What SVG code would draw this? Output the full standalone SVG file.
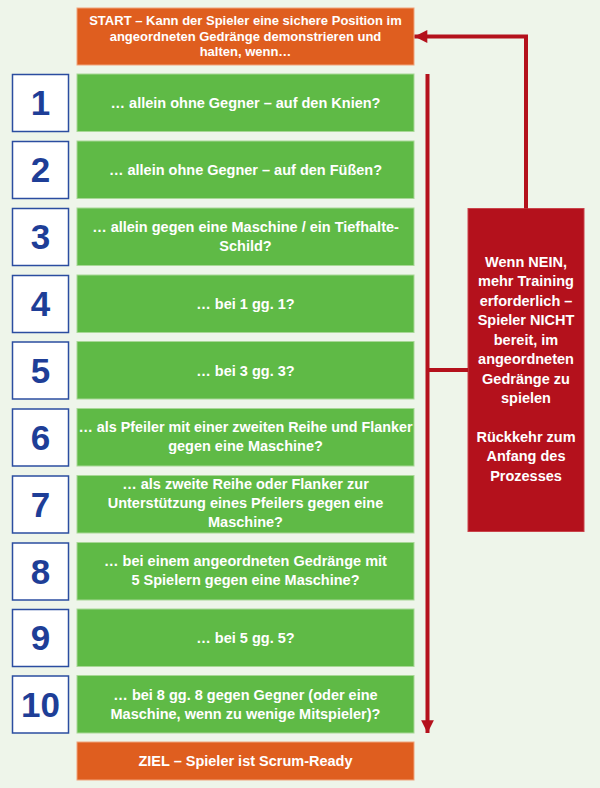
<svg xmlns="http://www.w3.org/2000/svg" width="600" height="788" viewBox="0 0 600 788">
<style>
.bg{fill:#eef5ea}
.org{fill:#df5e1f;stroke:#f0a47c;stroke-width:1}
.grn{fill:#5fba46;stroke:#a8d896;stroke-width:1}
.num{fill:#ffffff;stroke:#2b4da0;stroke-width:1.5}
.red{fill:#b4111c;stroke:#c9434b;stroke-width:1}
.t{font-family:"Liberation Sans",Arial,sans-serif;font-weight:bold;font-size:14.5px;fill:#ffffff;text-anchor:middle}
.s{font-family:"Liberation Sans",Arial,sans-serif;font-weight:bold;font-size:13px;fill:#ffffff;text-anchor:middle}
.rt{font-family:"Liberation Sans",Arial,sans-serif;font-weight:bold;font-size:14.5px;fill:#ffffff;text-anchor:middle}
.n{font-family:"Liberation Sans",Arial,sans-serif;font-weight:bold;font-size:35px;fill:#1e3e97;text-anchor:middle}
.ln{fill:none;stroke:#b4111c;stroke-width:4}
</style>
<defs>
<marker id="ah" viewBox="0 0 10 10" refX="10" refY="5" markerWidth="4.5" markerHeight="3.2" markerUnits="strokeWidth" orient="auto">
<path d="M0,0 L10,5 L0,10 Z" fill="#b4111c"/>
</marker>
</defs>
<rect class="bg" x="0" y="0" width="600" height="788"/>

<g id="start">
<rect class="org" x="77" y="8" width="337" height="57"/>
<text class="s" x="245.5" y="25">START – Kann der Spieler eine sichere Position im</text>
<text class="s" x="245.5" y="40.5">angeordneten Gedränge demonstrieren und</text>
<text class="s" x="245.5" y="56">halten, wenn…</text>
</g>

<g id="step1">
<rect class="num" x="12.5" y="74.5" width="56" height="57"/>
<text class="n" x="40.5" y="115">1</text>
<rect class="grn" x="77" y="74" width="337" height="57.5"/>
<text class="t" x="245.5" y="108">… allein ohne Gegner – auf den Knien?</text>
</g>

<g id="step2">
<rect class="num" x="12.5" y="141.5" width="56" height="57"/>
<text class="n" x="40.5" y="182">2</text>
<rect class="grn" x="77" y="141" width="337" height="57.5"/>
<text class="t" x="245.5" y="175">… allein ohne Gegner – auf den Füßen?</text>
</g>

<g id="step3">
<rect class="num" x="12.5" y="208.5" width="56" height="57"/>
<text class="n" x="40.5" y="249">3</text>
<rect class="grn" x="77" y="208" width="337" height="57.5"/>
<text class="t" x="245.5" y="232">… allein gegen eine Maschine / ein Tiefhalte-</text>
<text class="t" x="245.5" y="251">Schild?</text>
</g>

<g id="step4">
<rect class="num" x="12.5" y="275.5" width="56" height="57"/>
<text class="n" x="40.5" y="316">4</text>
<rect class="grn" x="77" y="275" width="337" height="57.5"/>
<text class="t" x="245.5" y="309">… bei 1 gg. 1?</text>
</g>

<g id="step5">
<rect class="num" x="12.5" y="342" width="56" height="57"/>
<text class="n" x="40.5" y="382.5">5</text>
<rect class="grn" x="77" y="341.5" width="337" height="57.5"/>
<text class="t" x="245.5" y="375.5">… bei 3 gg. 3?</text>
</g>

<g id="step6">
<rect class="num" x="12.5" y="409" width="56" height="57"/>
<text class="n" x="40.5" y="449.5">6</text>
<rect class="grn" x="77" y="408.5" width="337" height="57.5"/>
<text class="t" x="245.5" y="432" textLength="334" lengthAdjust="spacingAndGlyphs">… als Pfeiler mit einer zweiten Reihe und Flanker</text>
<text class="t" x="245.5" y="451">gegen eine Maschine?</text>
</g>

<g id="step7">
<rect class="num" x="12.5" y="476" width="56" height="57"/>
<text class="n" x="40.5" y="516.5">7</text>
<rect class="grn" x="77" y="475.5" width="337" height="57.5"/>
<text class="t" x="245.5" y="489">… als zweite Reihe oder Flanker zur</text>
<text class="t" x="245.5" y="508">Unterstützung eines Pfeilers gegen eine</text>
<text class="t" x="245.5" y="527">Maschine?</text>
</g>

<g id="step8">
<rect class="num" x="12.5" y="543" width="56" height="57"/>
<text class="n" x="40.5" y="583.5">8</text>
<rect class="grn" x="77" y="542.5" width="337" height="57.5"/>
<text class="t" x="245.5" y="566">… bei einem angeordneten Gedränge mit</text>
<text class="t" x="245.5" y="585">5 Spielern gegen eine Maschine?</text>
</g>

<g id="step9">
<rect class="num" x="12.5" y="609.5" width="56" height="57"/>
<text class="n" x="40.5" y="650">9</text>
<rect class="grn" x="77" y="609" width="337" height="57.5"/>
<text class="t" x="245.5" y="643">… bei 5 gg. 5?</text>
</g>

<g id="step10">
<rect class="num" x="12.5" y="676" width="56" height="57"/>
<text class="n" x="40.5" y="716.5">10</text>
<rect class="grn" x="77" y="675.5" width="337" height="57.5"/>
<text class="t" x="245.5" y="699.5">… bei 8 gg. 8 gegen Gegner (oder eine</text>
<text class="t" x="245.5" y="718.5">Maschine, wenn zu wenige Mitspieler)?</text>
</g>

<g id="goal">
<rect class="org" x="77" y="742" width="337" height="38"/>
<text class="t" x="245.5" y="766">ZIEL – Spieler ist Scrum-Ready</text>
</g>

<g id="fail">
<rect class="red" x="468" y="208.5" width="116" height="323"/>
<text class="rt" x="526" y="266.5">Wenn NEIN,</text>
<text class="rt" x="526" y="286">mehr Training</text>
<text class="rt" x="526" y="305.5">erforderlich –</text>
<text class="rt" x="526" y="325">Spieler NICHT</text>
<text class="rt" x="526" y="344.5">bereit, im</text>
<text class="rt" x="526" y="364">angeordneten</text>
<text class="rt" x="526" y="383.5">Gedränge zu</text>
<text class="rt" x="526" y="403">spielen</text>
<text class="rt" x="526" y="441.5">Rückkehr zum</text>
<text class="rt" x="526" y="461">Anfang des</text>
<text class="rt" x="526" y="480.5">Prozesses</text>
</g>

<g id="connectors">
<path class="ln" d="M427.5,74 L427.5,733" marker-end="url(#ah)"/>
<path class="ln" d="M427.5,370 L468,370"/>
<path class="ln" d="M526,208.5 L526,36.5 L414.5,36.5" marker-end="url(#ah)"/>
</g>
</svg>
